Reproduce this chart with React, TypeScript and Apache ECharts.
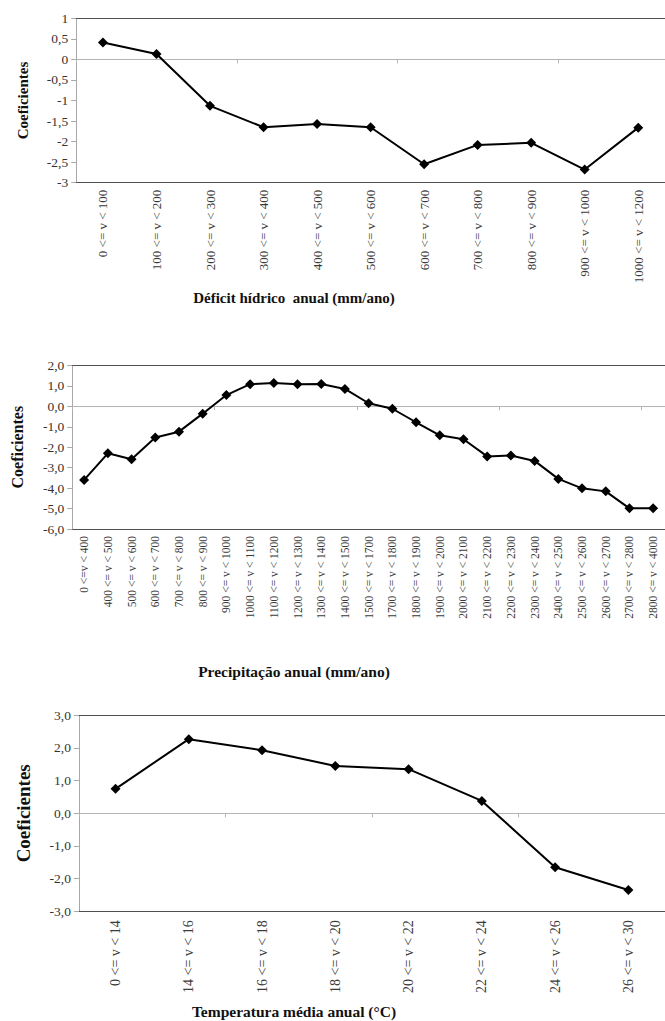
import React, { useEffect, useRef } from "react";
import * as echarts from "echarts";

const deficitCats = [
  "0 <= v < 100", "100 <= v < 200", "200 <= v < 300", "300 <= v < 400",
  "400 <= v < 500", "500 <= v < 600", "600 <= v < 700", "700 <= v < 800",
  "800 <= v < 900", "900 <= v < 1000", "1000 <= v < 1200",
];
const deficitVals = [0.41, 0.13, -1.13, -1.65, -1.57, -1.65, -2.55, -2.08, -2.03, -2.68, -1.66];

const precipCats = [
  "0 <=v < 400", "400 <= v < 500", "500 <= v < 600", "600 <= v < 700",
  "700 <= v < 800", "800 <= v < 900", "900 <= v < 1000", "1000 <= v < 1100",
  "1100 <= v < 1200", "1200 <= v < 1300", "1300 <= v < 1400", "1400 <= v < 1500",
  "1500 <= v < 1700", "1700 <= v < 1800", "1800 <= v < 1900", "1900 <= v < 2000",
  "2000 <= v < 2100", "2100 <= v < 2200", "2200 <= v < 2300", "2300 <= v < 2400",
  "2400 <= v < 2500", "2500 <= v < 2600", "2600 <= v < 2700", "2700 <= v < 2800",
  "2800 <= v < 4000",
];
const precipVals = [
  -3.6, -2.3, -2.59, -1.53, -1.24, -0.36, 0.55, 1.08, 1.14, 1.08, 1.09, 0.85,
  0.15, -0.12, -0.78, -1.42, -1.61, -2.45, -2.41, -2.67, -3.55, -4.01, -4.16, -4.99, -4.99,
];

const tempCats = [
  "0 <= v < 14", "14 <= v < 16", "16 <= v < 18", "18 <= v < 20",
  "20 <= v < 22", "22 <= v < 24", "24 <= v < 26", "26 <= v < 30",
];
const tempVals = [0.75, 2.27, 1.93, 1.45, 1.35, 0.38, -1.65, -2.35];

const yTitle = "Coeficientes";
const xTitles = [
  "Déficit hídrico  anual (mm/ano)",
  "Precipitação anual (mm/ano)",
  "Temperatura média anual (°C)",
];

const FONT = "'Liberation Serif', 'Times New Roman', serif";

export default function App() {
  const ref = useRef<HTMLDivElement>(null);
  useEffect(() => {
    if (!ref.current) return;
    const chart = echarts.init(ref.current, undefined, { renderer: "svg" });

    const grids = [
      { left: 76.2, top: 18.3, width: 591, height: 164.4 },
      { left: 72.3, top: 365.4, width: 602.5, height: 163.6 },
      { left: 78.9, top: 715.3, width: 589.6, height: 196 },
    ];
    const cats = [deficitCats, precipCats, tempCats];
    const vals = [deficitVals, precipVals, tempVals];
    const labelSize = [13, 11.5, 14];
    const labelMargin = [7, 7, 9];
    const yRanges = [
      { min: -3, max: 1, interval: 0.5 },
      { min: -6, max: 2, interval: 1 },
      { min: -3, max: 3, interval: 1 },
    ];

    const xAxes: any[] = [];
    const yAxes: any[] = [];
    const series: any[] = [];
    for (let i = 0; i < 3; i++) {
      xAxes.push({
        type: "category", gridIndex: i, data: cats[i], position: "bottom",
        axisLine: { onZero: false, lineStyle: { color: "#505050", width: 1 } },
        axisTick: { show: false },
        axisLabel: {
          rotate: 90, interval: 0, margin: labelMargin[i], fontFamily: FONT,
          fontSize: labelSize[i], color: "#3a3a3a",
        },
        splitLine: { show: false },
      });
      xAxes.push({
        type: "category", gridIndex: i, data: cats[i], position: "bottom",
        axisLine: { onZero: true, lineStyle: { color: "#b4b4b4", width: 1 } },
        axisTick: { show: true, length: 4, lineStyle: { color: "#b4b4b4" } },
        axisLabel: { show: false },
        splitLine: { show: false },
      });
      xAxes.push({
        type: "category", gridIndex: i, data: cats[i], position: "top",
        axisLine: { onZero: false, lineStyle: { color: "#505050", width: 1 } },
        axisTick: { show: false },
        axisLabel: { show: false },
        splitLine: { show: false },
      });
      yAxes.push({
        type: "value", gridIndex: i, ...yRanges[i],
        axisLine: { show: true, onZero: false, lineStyle: { color: "#a8a8a8" } },
        axisTick: { show: true, length: 5, lineStyle: { color: "#a8a8a8" } },
        splitLine: { show: false },
        axisLabel: {
          fontFamily: FONT, fontSize: 13.5, color: "#333", margin: 8,
          formatter: (v: number) => {
            if (i === 0) {
              return (Math.round(v * 10) / 10).toString().replace(".", ",");
            }
            return v.toFixed(1).replace(".", ",");
          },
        },
      });
      series.push({
        type: "line", xAxisIndex: i * 3, yAxisIndex: i, data: vals[i],
        symbol: "diamond", symbolSize: 10,
        lineStyle: { color: "#000", width: 2 },
        itemStyle: { color: "#000" },
      });
    }

    const titleY = [298, 671.7, 1011.7];
    const titleSize = [15, 15.5, 15.5];
    const yNameX = [23, 17, 23];
    const yNameY = [100.5, 447.2, 813.3];
    const yNameSize = [15, 16, 19];
    const graphic: any[] = [];
    for (let i = 0; i < 3; i++) {
      graphic.push({
        type: "text", x: 294, y: titleY[i],
        style: {
          text: xTitles[i], fontFamily: FONT, fontWeight: "bold", fontSize: titleSize[i],
          fill: "#111", textAlign: "center", textVerticalAlign: "middle",
        },
      });
      graphic.push({
        type: "text", x: yNameX[i], y: yNameY[i], rotation: Math.PI / 2,
        style: {
          text: yTitle, fontFamily: FONT, fontWeight: "bold", fontSize: yNameSize[i],
          fill: "#111", textAlign: "center", textVerticalAlign: "middle",
        },
      });
    }

    chart.setOption({
      animation: false,
      backgroundColor: "#fff",
      grid: grids,
      xAxis: xAxes,
      yAxis: yAxes,
      series,
      graphic,
    });
    return () => chart.dispose();
  }, []);
  return (
    <div
      ref={ref}
      style={{ position: "fixed", left: 0, top: 0, width: 665, height: 1021 }}
    />
  );
}
